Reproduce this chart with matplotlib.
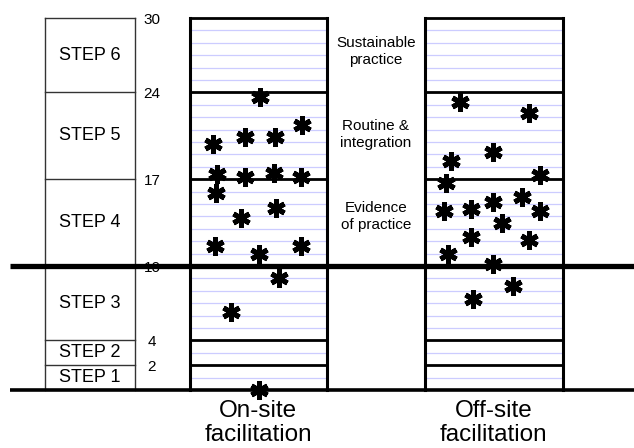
import matplotlib
matplotlib.use("Agg")
import matplotlib.pyplot as plt

plt.rcParams['font.family'] = ['Liberation Sans', 'DejaVu Sans']

# ---- data ----
step_bounds = [0, 2, 4, 10, 17, 24, 30]
step_names = ["STEP 1", "STEP 2", "STEP 3", "STEP 4", "STEP 5", "STEP 6"]
tick_labels = ["2", "4", "10", "17", "24", "30"]
tick_values = [2, 4, 10, 17, 24, 30]
stage_labels = ["Evidence\nof practice", "Routine &\nintegration", "Sustainable\npractice"]
stage_y = [14.0, 20.6, 27.3]
group_names = ["On-site\nfacilitation", "Off-site\nfacilitation"]

onsite_x = [0.51, 0.17, 0.40, 0.62, 0.82, 0.20, 0.40, 0.61, 0.81,
            0.19, 0.37, 0.63, 0.18, 0.50, 0.81, 0.65, 0.30, 0.50]
onsite_y = [23.6, 19.8, 20.4, 20.4, 21.4, 17.4, 17.2, 17.5, 17.2,
            15.9, 13.9, 14.7, 11.6, 11.0, 11.6, 9.0, 6.3, 0.0]
offsite_x = [0.25, 0.75, 0.19, 0.49, 0.15, 0.83, 0.14, 0.33, 0.49,
             0.70, 0.83, 0.56, 0.33, 0.75, 0.17, 0.49, 0.64, 0.35]
offsite_y = [23.2, 22.3, 18.5, 19.2, 16.7, 17.3, 14.4, 14.6, 15.2,
             15.6, 14.4, 13.5, 12.3, 12.1, 11.0, 10.2, 8.4, 7.3]

# ---- layout (pixel-like x units) ----
W, H = 634, 448
fig = plt.figure(figsize=(W / 100, H / 100), dpi=100)
ax = fig.add_axes([0, 0, 1, 1])
ppu = 12.4
y0 = 390
ax.set_xlim(0, W)
ax.set_ylim((y0 - H) / ppu, y0 / ppu)
ax.axis('off')

step_left, step_right = 45, 135
boxes = [(190, 327), (425, 563)]
lav = '#ccccff'
top = step_bounds[-1]

# step box
for b in step_bounds:
    if b in (0, 10):
        continue
    ax.plot([step_left, step_right], [b, b], color='#333333', lw=1.0, zorder=2)
ax.plot([step_left, step_left], [0, top], color='#333333', lw=1.0, zorder=2)
ax.plot([step_right, step_right], [0, top], color='#333333', lw=1.0, zorder=2)
for i, name in enumerate(step_names):
    mid = (step_bounds[i] + step_bounds[i + 1]) / 2
    ax.text((step_left + step_right) / 2, mid, name, ha='center', va='center',
            fontsize=13, zorder=3)

# tick numbers
for v, lab in zip(tick_values, tick_labels):
    ax.text(152, v - 0.15, lab, ha='center', va='center', fontsize=11, zorder=3)

# facilitation boxes
for (xl, xr) in boxes:
    for g in range(1, top):
        ax.plot([xl, xr], [g, g], color=lav, lw=0.9, zorder=1)
    for b in step_bounds[1:]:
        if b == 10:
            continue
        ax.plot([xl, xr], [b, b], color='black', lw=2.0, zorder=2)
    ax.plot([xl, xl], [0, top], color='black', lw=2.2, zorder=2)
    ax.plot([xr, xr], [0, top], color='black', lw=2.2, zorder=2)

# stage labels
for lab, yy in zip(stage_labels, stage_y):
    ax.text(376, yy, lab, ha='center', va='center', fontsize=11,
            linespacing=1.2, zorder=3)

# thick lines
ax.plot([10, W], [10, 10], color='black', lw=3.8, zorder=4, solid_capstyle='butt')
ax.plot([10, W], [0, 0], color='black', lw=2.6, zorder=4, solid_capstyle='butt')

# stars
for (xl, xr), xs, ys in zip(boxes, [onsite_x, offsite_x], [onsite_y, offsite_y]):
    px = [xl + f * (xr - xl) for f in xs]
    ax.plot(px, ys, linestyle='none', marker=(6, 2, 0), markersize=13,
            markeredgewidth=3.6, color='black', zorder=5)

# group labels
for (xl, xr), name in zip(boxes, group_names):
    ax.text((xl + xr) / 2 - 0.5, (y0 - 423) / ppu, name, ha='center', va='center',
            fontsize=17.5, linespacing=1.15, zorder=3)

fig.savefig('out.png', dpi=100)
